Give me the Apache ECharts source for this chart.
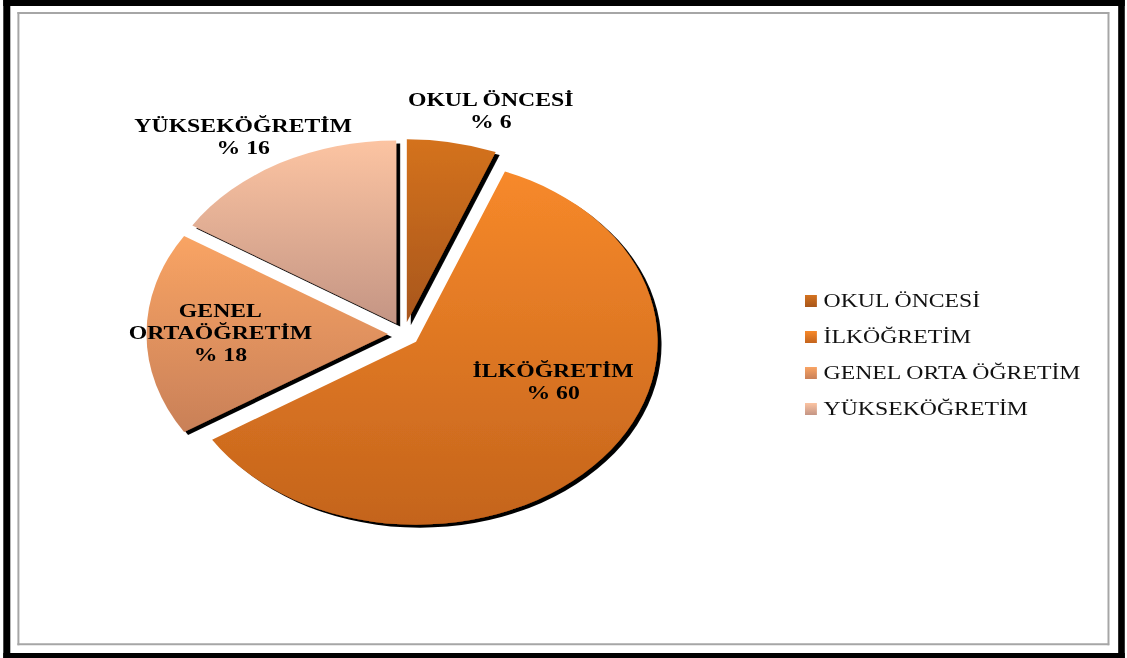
<!DOCTYPE html>
<html>
<head>
<meta charset="utf-8">
<script src="https://cdn.jsdelivr.net/npm/echarts@6/dist/echarts.min.js"></script>
<style>
html,body{margin:0;padding:0;background:#fff;overflow:hidden;width:1127px;height:658px;}
/* the original picture is a horizontally stretched chart (ellipse pie, wide text) */
#chart{width:854px;height:658px;transform:scaleX(1.3197);transform-origin:0 0;}
</style>
</head>
<body>
<div id="chart"></div>
<script>
var categories = ['OKUL ÖNCESİ', 'İLKÖĞRETİM', 'GENEL ORTA ÖĞRETİM', 'YÜKSEKÖĞRETİM'];
var sliceLabels = ['OKUL ÖNCESİ', 'İLKÖĞRETİM', 'GENEL\nORTAÖĞRETİM', 'YÜKSEKÖĞRETİM'];
var values = [6, 60, 18, 16];
var topColors = ['#D4721F', '#F7892A', '#F9A464', '#FCC4A2'];
var bottomColors = ['#A8561A', '#C4641C', '#C98058', '#C49584'];

(function () {
  var CENTER = [306, 334];
  var RADIUS = 183;
  // which labels sit inside the slice, and small label nudges (layout only)
  var labelInside = [false, true, true, false];
  var labelNudge = [[22, 7], [6, -41], [0, -1], [-9, 8]];

  var pieData = categories.map(function (name, i) {
    return {
      name: name,
      value: values[i],
      selected: true,
      itemStyle: {
        color: new echarts.graphic.LinearGradient(0, 0, 0, 1, [
          { offset: 0, color: topColors[i] },
          { offset: 1, color: bottomColors[i] }
        ])
      }
    };
  });

  function labelData(inside) {
    return categories.map(function (name, i) {
      return {
        name: name,
        value: values[i],
        label: { show: labelInside[i] === inside, offset: labelNudge[i] }
      };
    });
  }

  var labelStyle = {
    position: 'inside',
    fontFamily: 'Liberation Serif',
    fontWeight: 'bold',
    fontSize: 18,
    color: '#000',
    align: 'center',
    verticalAlign: 'middle',
    lineHeight: 22,
    formatter: function (p) {
      return sliceLabels[p.dataIndex] + '\n% ' + values[p.dataIndex];
    }
  };

  function ghostSeries(radius, inside) {
    return {
      type: 'pie',
      center: CENTER,
      radius: radius,
      startAngle: 90,
      clockwise: true,
      silent: true,
      selectedMode: false,
      avoidLabelOverlap: false,
      z: 5,
      itemStyle: { color: 'rgba(0,0,0,0)', borderWidth: 0 },
      emphasis: { disabled: true },
      labelLine: { show: false },
      label: labelStyle,
      data: labelData(inside)
    };
  }

  var chart = echarts.init(document.getElementById('chart'), null, { renderer: 'svg' });
  chart.setOption({
    backgroundColor: '#fff',
    animation: false,
    graphic: [
      { type: 'rect', shape: { x: 2.5, y: 0, width: 849.8, height: 6 }, style: { fill: '#000' } },
      { type: 'rect', shape: { x: 2.5, y: 653, width: 849.8, height: 5 }, style: { fill: '#000' } },
      { type: 'rect', shape: { x: 2.5, y: 0, width: 5.3, height: 658 }, style: { fill: '#000' } },
      { type: 'rect', shape: { x: 847.3, y: 0, width: 5, height: 658 }, style: { fill: '#000' } },
      { type: 'rect', shape: { x: 13.2, y: 12, width: 827.3, height: 2 }, style: { fill: '#a6a6a6' } },
      { type: 'rect', shape: { x: 13.2, y: 643.3, width: 827.3, height: 2 }, style: { fill: '#a6a6a6' } },
      { type: 'rect', shape: { x: 13.2, y: 12, width: 1.5, height: 633.3 }, style: { fill: '#a6a6a6' } },
      { type: 'rect', shape: { x: 839.2, y: 12, width: 1.5, height: 633.3 }, style: { fill: '#a6a6a6' } }
    ],
    legend: {
      orient: 'vertical',
      left: 605,
      top: 287,
      itemWidth: 9,
      itemHeight: 12,
      itemGap: 18,
      icon: 'rect',
      selectedMode: false,
      data: categories,
      itemStyle: { shadowColor: 'transparent', shadowOffsetX: 0, shadowOffsetY: 0, borderWidth: 0 },
      textStyle: { fontFamily: 'Liberation Serif', fontSize: 18, color: '#111' }
    },
    series: [
      {
        type: 'pie',
        center: CENTER,
        radius: RADIUS,
        startAngle: 90,
        clockwise: true,
        selectedMode: 'multiple',
        selectedOffset: 12,
        avoidLabelOverlap: false,
        itemStyle: {
          shadowColor: '#000',
          shadowBlur: 0,
          shadowOffsetX: 3,
          shadowOffsetY: 3
        },
        emphasis: { disabled: true },
        label: { show: false },
        labelLine: { show: false },
        data: pieData
      },
      ghostSeries(272, true),
      ghostSeries(462, false)
    ]
  });
})();
</script>
</body>
</html>
